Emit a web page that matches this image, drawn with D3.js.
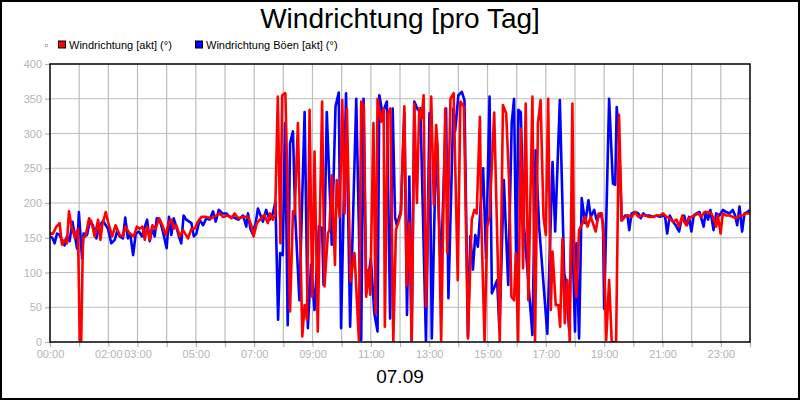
<!DOCTYPE html>
<html>
<head>
<meta charset="utf-8">
<script src="https://cdn.jsdelivr.net/npm/d3@7"></script>
<style>
  body { margin: 0; background: #fff; }
  svg { display: block; font-family: "Liberation Sans", Arial, sans-serif; }
</style>
</head>
<body>
<div class="container"></div>
<script>
// chart values (time in hours, direction in degrees)
const TITLE = "Windrichtung [pro Tag]";
const DATE_LABEL = "07.09";
const SERIES_NAMES = ["Windrichtung [akt] (°)", "Windrichtung Böen [akt] (°)"];
const Y_TICKS = [0, 50, 100, 150, 200, 250, 300, 350, 400];
const X_TICKS = d3.range(0, 25);
const X_LABELS = [0, 2, 3, 5, 7, 9, 11, 13, 15, 17, 19, 21, 23];

const gustPoints = [
  [0.00,152],[0.08,150],[0.16,142],[0.24,156],[0.33,154],[0.42,145],[0.50,139],[0.58,152],[0.67,145],[0.77,173],
  [0.85,154],[0.93,134],[0.99,187],[1.10,120],[1.15,156],[1.27,154],[1.36,173],[1.47,168],[1.59,149],[1.70,168],
  [1.82,174],[1.99,163],[2.10,142],[2.22,147],[2.30,159],[2.39,152],[2.50,149],[2.58,179],[2.67,149],[2.75,156],
  [2.85,125],[2.94,156],[3.05,159],[3.15,152],[3.33,176],[3.42,145],[3.50,163],[3.59,152],[3.66,178],[3.76,176],
  [3.87,159],[4.00,135],[4.08,180],[4.16,154],[4.24,178],[4.33,166],[4.42,152],[4.50,142],[4.58,182],[4.67,176],
  [4.85,171],[4.93,152],[5.02,156],[5.13,176],[5.25,168],[5.36,178],[5.47,176],[5.59,188],[5.68,173],[5.79,190],
  [5.91,185],[6.05,185],[6.16,180],[6.27,180],[6.45,176],[6.62,182],[6.73,166],[6.79,185],[6.87,163],[6.94,156],
  [7.05,171],[7.13,192],[7.30,173],[7.41,190],[7.53,176],[7.64,185],[7.73,202],[7.82,32],[7.89,128],[7.98,125],
  [8.06,315],[8.15,24],[8.23,286],[8.33,303],[8.41,180],[8.55,60],[8.73,331],[8.84,20],[8.95,111],[9.07,46],
  [9.22,166],[9.33,164],[9.38,82],[9.49,331],[9.66,140],[9.79,339],[9.90,359],[9.98,20],[10.15,358],[10.29,22],
  [10.50,350],[10.67,3],[10.75,350],[10.84,70],[11.00,120],[11.12,41],[11.23,15],[11.29,355],[11.40,329],[11.55,346],
  [11.66,34],[11.75,336],[11.83,180],[11.89,168],[12.03,188],[12.15,330],[12.24,39],[12.32,238],[12.40,0],[12.49,346],
  [12.61,334],[12.70,336],[12.89,0],[13.01,329],[13.09,5],[13.24,295],[13.40,100],[13.58,336],[13.66,63],[13.83,336],
  [13.89,303],[14.00,355],[14.12,360],[14.21,348],[14.33,8],[14.41,152],[14.50,104],[14.58,154],[14.67,137],[14.85,250],
  [14.95,120],[15.07,353],[15.15,70],[15.33,89],[15.41,17],[15.56,233],[15.71,82],[15.83,315],[15.91,350],[15.99,94],
  [16.06,334],[16.14,331],[16.25,168],[16.54,10],[16.65,276],[16.77,166],[17.05,12],[17.23,259],[17.32,159],[17.48,348],
  [17.63,99],[17.68,89],[17.80,17],[17.89,185],[18.00,15],[18.05,142],[18.14,5],[18.23,207],[18.35,171],[18.46,204],
  [18.54,180],[18.66,190],[18.74,176],[18.89,185],[18.96,170],[19.00,48],[19.17,350],[19.30,228],[19.38,226],[19.43,338],
  [19.50,300],[19.60,175],[19.72,182],[19.80,182],[19.86,161],[19.94,185],[20.06,187],[20.17,185],[20.25,178],[20.34,185],
  [20.43,182],[20.55,182],[20.68,180],[20.80,182],[20.91,180],[21.02,182],[21.09,180],[21.16,156],[21.25,182],[21.36,173],
  [21.45,168],[21.57,159],[21.65,176],[21.74,182],[21.84,168],[21.91,180],[21.99,159],[22.07,182],[22.16,185],[22.27,187],
  [22.41,166],[22.48,187],[22.56,176],[22.64,190],[22.75,161],[22.84,185],[22.95,182],[23.07,190],[23.18,187],[23.30,185],
  [23.41,190],[23.49,182],[23.56,168],[23.64,195],[23.73,159],[23.81,185],[23.92,187],[23.99,190]
];

const windPoints = [
  [0.00,156],[0.10,156],[0.22,166],[0.33,171],[0.41,140],[0.50,147],[0.58,142],[0.65,188],[0.73,168],[0.85,150],
  [0.96,163],[1.02,0],[1.07,0],[1.13,150],[1.22,152],[1.34,178],[1.42,173],[1.53,152],[1.65,176],[1.73,147],
  [1.79,168],[1.91,187],[1.99,173],[2.13,152],[2.25,168],[2.39,154],[2.50,152],[2.59,166],[2.73,156],[2.87,152],
  [2.98,166],[3.07,163],[3.17,166],[3.25,147],[3.33,166],[3.42,147],[3.51,168],[3.62,163],[3.74,178],[3.85,168],
  [3.97,154],[4.08,173],[4.16,176],[4.24,163],[4.33,168],[4.45,152],[4.56,161],[4.73,149],[4.85,163],[4.96,163],
  [5.07,173],[5.19,180],[5.36,180],[5.53,178],[5.70,182],[5.82,185],[5.93,180],[6.10,182],[6.22,178],[6.33,185],
  [6.45,178],[6.62,180],[6.79,180],[6.90,168],[6.98,152],[7.09,171],[7.24,178],[7.35,183],[7.47,171],[7.55,185],
  [7.64,176],[7.72,183],[7.81,353],[7.90,142],[7.96,355],[8.07,358],[8.14,233],[8.23,44],[8.33,188],[8.39,185],
  [8.50,315],[8.65,8],[8.73,53],[8.81,32],[8.90,334],[8.99,65],[9.07,274],[9.18,15],[9.33,346],[9.41,80],
  [9.53,156],[9.58,161],[9.66,240],[9.77,111],[9.83,233],[9.93,180],[10.02,348],[10.10,185],[10.18,336],[10.30,87],
  [10.44,128],[10.59,3],[10.67,346],[10.76,339],[10.84,65],[10.92,104],[10.98,68],[11.09,315],[11.16,41],[11.23,350],
  [11.35,317],[11.44,336],[11.48,22],[11.58,329],[11.67,336],[11.77,0],[11.86,161],[12.03,185],[12.15,339],[12.23,82],
  [12.32,171],[12.40,0],[12.49,343],[12.58,200],[12.66,336],[12.74,322],[12.81,355],[12.89,51],[13.07,353],[13.16,197],
  [13.24,312],[13.29,281],[13.41,0],[13.55,336],[13.62,128],[13.73,350],[13.84,358],[13.98,89],[14.07,346],[14.19,339],
  [14.33,5],[14.46,176],[14.55,190],[14.63,185],[14.74,324],[14.78,185],[14.90,0],[14.99,166],[15.07,180],[15.23,330],
  [15.42,0],[15.53,341],[15.64,329],[15.74,233],[15.82,65],[15.91,60],[15.97,128],[16.05,0],[16.14,307],[16.22,106],
  [16.31,343],[16.40,60],[16.54,353],[16.63,0],[16.73,315],[16.82,348],[16.92,180],[17.00,154],[17.08,350],[17.17,46],
  [17.23,130],[17.34,53],[17.43,53],[17.49,22],[17.57,149],[17.65,27],[17.74,89],[17.82,0],[17.91,343],[17.97,116],
  [18.05,65],[18.14,161],[18.26,171],[18.35,180],[18.43,166],[18.54,180],[18.71,159],[18.81,185],[18.92,185],[18.98,150],
  [19.07,3],[19.17,89],[19.26,0],[19.41,0],[19.51,327],[19.60,175],[19.72,180],[19.83,182],[19.94,180],[20.06,187],
  [20.17,180],[20.28,182],[20.40,182],[20.55,180],[20.68,180],[20.80,182],[20.91,182],[21.02,185],[21.14,180],[21.25,178],
  [21.36,173],[21.48,176],[21.57,166],[21.68,182],[21.74,173],[21.82,168],[21.91,178],[21.99,180],[22.10,182],[22.22,185],
  [22.33,180],[22.44,187],[22.56,187],[22.67,185],[22.75,178],[22.84,166],[22.90,182],[22.99,156],[23.07,185],[23.18,182],
  [23.30,182],[23.41,180],[23.52,178],[23.64,182],[23.75,182],[23.86,185],[23.99,185]
];

const SERIES_COLORS = ["#ff0000", "#0000ff"];

// layout
const WIDTH = 800;
const HEIGHT = 400;
const MARGIN = { top: 64, right: 50, bottom: 58, left: 50 };
const GRID_COLOR = "#bdbdbd";
const LABEL_COLOR = "#b4b4b4";

const svg = d3
  .select(".container")
  .append("svg")
  .attr("viewBox", [0, 0, WIDTH, HEIGHT])
  .attr("width", WIDTH)
  .attr("height", HEIGHT);

const x = d3
  .scaleLinear()
  .domain([0, 24])
  .range([MARGIN.left, WIDTH - MARGIN.right]);
const y = d3
  .scaleLinear()
  .domain([0, 400])
  .range([HEIGHT - MARGIN.bottom, MARGIN.top]);

// outer frame
svg
  .append("rect")
  .attr("x", 1)
  .attr("y", 1)
  .attr("width", WIDTH - 2)
  .attr("height", HEIGHT - 2)
  .attr("fill", "#fff")
  .attr("stroke", "#000")
  .attr("stroke-width", 2);

// title and date
svg
  .append("text")
  .attr("x", WIDTH / 2)
  .attr("y", 28)
  .attr("text-anchor", "middle")
  .attr("font-size", 28)
  .attr("fill", "#000")
  .text(TITLE);

svg
  .append("text")
  .attr("x", WIDTH / 2)
  .attr("y", 383)
  .attr("text-anchor", "middle")
  .attr("font-size", 19)
  .attr("fill", "#000")
  .text(DATE_LABEL);

// legend
const legend = svg.append("g").attr("font-size", 11).attr("fill", "#000");
legend
  .append("rect")
  .attr("x", 45.5)
  .attr("y", 44.5)
  .attr("width", 2)
  .attr("height", 2)
  .attr("fill", "none")
  .attr("stroke", "#bbb")
  .attr("stroke-width", 1);
const legendX = [58.5, 195.5];
SERIES_NAMES.forEach((name, i) => {
  legend
    .append("rect")
    .attr("x", legendX[i])
    .attr("y", 41)
    .attr("width", 7)
    .attr("height", 7)
    .attr("fill", SERIES_COLORS[i])
    .attr("stroke", "#000")
    .attr("stroke-width", 1);
  legend
    .append("text")
    .attr("x", legendX[i] + 10.5)
    .attr("y", 48.5)
    .text(name);
});

// grid
const grid = svg.append("g").attr("stroke", GRID_COLOR).attr("stroke-width", 1.2);
grid
  .selectAll(".vgrid")
  .data(X_TICKS.slice(1, -1))
  .join("line")
  .attr("x1", (d) => x(d))
  .attr("x2", (d) => x(d))
  .attr("y1", y(400))
  .attr("y2", y(0));
grid
  .selectAll(".hgrid")
  .data(Y_TICKS.slice(1, -1))
  .join("line")
  .attr("class", "hgrid")
  .attr("x1", x(0))
  .attr("x2", x(24))
  .attr("y1", (d) => y(d))
  .attr("y2", (d) => y(d));

// axes
const xAxis = (g) =>
  g
    .attr("transform", `translate(0, ${y(0)})`)
    .call(
      d3
        .axisBottom(x)
        .tickValues(X_TICKS)
        .tickSize(5)
        .tickPadding(3)
        .tickFormat((d) => (X_LABELS.includes(d) ? d3.format("02")(d) + ":00" : ""))
    )
    .call((g) => g.select(".domain").remove())
    .call((g) => g.selectAll(".tick line").attr("stroke", LABEL_COLOR).attr("stroke-width", 1.2))
    .call((g) =>
      g
        .selectAll(".tick text")
        .attr("fill", LABEL_COLOR)
        .attr("font-size", 11)
        .attr("font-family", "Liberation Sans, Arial, sans-serif")
    );

const yAxis = (g) =>
  g
    .attr("transform", `translate(${x(0)}, 0)`)
    .call(d3.axisLeft(y).tickValues(Y_TICKS).tickSize(5).tickPadding(3))
    .call((g) => g.select(".domain").remove())
    .call((g) => g.selectAll(".tick line").attr("stroke", LABEL_COLOR).attr("stroke-width", 1.2))
    .call((g) =>
      g
        .selectAll(".tick text")
        .attr("fill", LABEL_COLOR)
        .attr("font-size", 11)
        .attr("font-family", "Liberation Sans, Arial, sans-serif")
    );

svg.append("g").call(xAxis);
svg.append("g").call(yAxis);

// lines, clipped to the plot
svg
  .append("clipPath")
  .attr("id", "plot-clip")
  .append("rect")
  .attr("x", x(0))
  .attr("y", y(400) - 2)
  .attr("width", x(24) - x(0))
  .attr("height", y(0) - y(400) + 2);

const line = d3
  .line()
  .x((d) => x(d[0]))
  .y((d) => y(d[1]));

const plot = svg
  .append("g")
  .attr("clip-path", "url(#plot-clip)")
  .attr("fill", "none")
  .attr("stroke-width", 2.6)
  .attr("stroke-linejoin", "round");

[gustPoints, windPoints].forEach((pts, i) => {
  plot
    .append("path")
    .datum(pts)
    .attr("stroke", SERIES_COLORS[1 - i])
    .attr("d", line);
});

// plot frame
svg
  .append("rect")
  .attr("x", x(0))
  .attr("y", y(400))
  .attr("width", x(24) - x(0))
  .attr("height", y(0) - y(400))
  .attr("fill", "none")
  .attr("stroke", "#000")
  .attr("stroke-width", 1.5);
</script>
</body>
</html>
